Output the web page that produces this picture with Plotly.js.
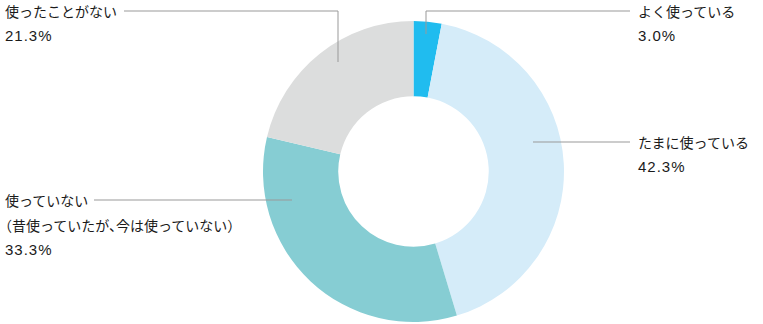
<!DOCTYPE html>
<html>
<head>
<meta charset="utf-8">
<script src="https://cdn.plot.ly/plotly-3.0.1.min.js"></script>
<style>html,body{margin:0;padding:0;background:#fff;}#chart{width:763px;height:324px;}
.annotation-text{font-feature-settings:"halt" 1;}
</style>
</head>
<body>
<div id="chart"></div>
<script>
// Data
const categories = ["よく使っている", "たまに使っている", "使っていない（昔使っていたが、今は使っていない）", "使ったことがない"];
const values = [3.0, 42.3, 33.3, 21.3];
const valueLabels = ["3.0%", "42.3%", "33.3%", "21.3%"];
const labelLines = [
  ["よく使っている"],
  ["たまに使っている"],
  ["使っていない", "（昔使っていたが、今は使っていない）"],
  ["使ったことがない"]
];
const sliceColors = ["#20bcef", "#d5ecf9", "#86cdd3", "#dcdddd"];

const W = 763, H = 324;
const px = x => x / W;
const py = y => 1 - y / H;

// label layout (pixel positions of text block and leader lines)
const labelPos = [
  {x: 636, y: 11, line: [[426, 34], [426, 11], [630, 11]]},
  {x: 636, y: 142, line: [[533, 142], [630, 142]]},
  {x: 3, y: 200, line: [[292, 200], [94, 200]]},
  {x: 3, y: 11, line: [[338, 62], [338, 11], [124, 11]]}
];
const lineGap = 24.5;
const textFont = {family: "Noto Sans CJK JP, sans-serif", size: 14, color: "#1a1a1a"};
const numFont = {family: "Liberation Sans, Arial, sans-serif", size: 15, color: "#1a1a1a"};

const annotations = [];
const shapes = [];
categories.forEach((c, i) => {
  const p = labelPos[i];
  const lines = labelLines[i];
  lines.forEach((t, j) => {
    annotations.push({
      text: t, x: px(p.x), y: py(p.y + j * lineGap), xref: "paper", yref: "paper",
      xanchor: "left", yanchor: "middle", showarrow: false, font: textFont
    });
  });
  annotations.push({
    text: '<span style="letter-spacing:1px">' + valueLabels[i] + '</span>',
    x: px(p.x), y: py(p.y + lines.length * lineGap), xref: "paper", yref: "paper",
    xanchor: "left", yanchor: "middle", showarrow: false, font: numFont
  });
  const pts = p.line;
  let path = "M " + px(pts[0][0]) + "," + py(pts[0][1]);
  for (let k = 1; k < pts.length; k++) path += " L " + px(pts[k][0]) + "," + py(pts[k][1]);
  shapes.push({type: "path", xref: "paper", yref: "paper", path: path,
    line: {color: "#999999", width: 1}});
});

const cx = 413.5, cy = 171.5, R = 150.5;
const trace = {
  type: "pie",
  labels: categories,
  values: values,
  hole: 0.5,
  sort: false,
  direction: "clockwise",
  rotation: 0,
  textinfo: "none",
  hoverinfo: "label+percent",
  marker: {colors: sliceColors, line: {width: 0}},
  domain: {x: [px(cx - R), px(cx + R)], y: [py(cy + R), py(cy - R)]},
  showlegend: false
};

Plotly.newPlot("chart", [trace], {
  width: W, height: H,
  margin: {l: 0, r: 0, t: 0, b: 0},
  paper_bgcolor: "#ffffff",
  plot_bgcolor: "#ffffff",
  annotations: annotations,
  shapes: shapes,
  showlegend: false
}, {displayModeBar: false, staticPlot: true});
</script>
</body>
</html>
